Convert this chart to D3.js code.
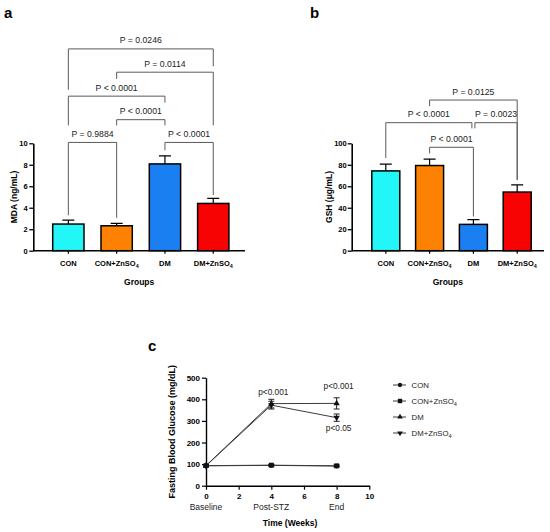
<!DOCTYPE html>
<html>
<head>
<meta charset="utf-8">
<script src="https://cdn.jsdelivr.net/npm/d3@7"></script>
<style>
  body { margin: 0; background: #fff; }
  svg { display: block; font-family: "Liberation Sans", Arial, sans-serif; }
</style>
</head>
<body>
<svg id="drawing_region" width="550" height="532"></svg>
<script>
// groups used by all panels
const groups = ["CON", "CON+ZnSO4", "DM", "DM+ZnSO4"];
const groupColors = ["#22f6f6", "#fd8204", "#1a80f2", "#f70303"];

// panel a : MDA
const mdaMean = [2.48, 2.32, 8.08, 4.40];
const mdaSem  = [0.37, 0.22, 0.74, 0.47];
const mdaTicks = [0, 2, 4, 6, 8, 10];
const mdaTests = [
    { a: 0, b: 1, level: 10.08, endA: 3.30,  endB: 3.06,  p: "P = 0.9884" },
    { a: 2, b: 3, level: 10.08, endA: 9.35,  endB: 5.18,  p: "P < 0.0001" },
    { a: 1, b: 2, level: 12.20, endA: 11.67, endB: 11.67, p: "P < 0.0001" },
    { a: 0, b: 2, level: 14.39, endA: 11.67, endB: 13.78, p: "P < 0.0001" },
    { a: 1, b: 3, level: 16.62, endA: 16.00, endB: 11.67, p: "P = 0.0114" },
    { a: 0, b: 3, level: 18.79, endA: 14.99, endB: 17.18, p: "P = 0.0246" }
];

// panel b : GSH
const gshMean = [74.3, 79.3, 24.5, 54.6];
const gshSem  = [6.4, 6.0, 4.4, 6.6];
const gshTicks = [0, 20, 40, 60, 80, 100];
const gshTests = [
    { a: 1, b: 2, level: 96.3,  endA: 90.5,  endB: 31.9,  p: "P < 0.0001" },
    { a: 0, b: 2, level: 119.2, endA: 86.3,  endB: 113.9, p: "P < 0.0001" },
    { a: 2, b: 3, level: 119.2, endA: 113.9, endB: 66.0,  p: "P = 0.0023" },
    { a: 1, b: 3, level: 140.3, endA: 134.7, endB: 66.0,  p: "P = 0.0125" }
];

// panel c : fasting blood glucose
const weeks = [0, 4, 8];
const weekNames = ["Baseline", "Post-STZ", "End"];
const weekTicks = [0, 2, 4, 6, 8, 10];
const fbgTicks = [0, 100, 200, 300, 400, 500];
const fbgCon   = [92, 94, 91];
const fbgConZn = [93, 95, 92];
const fbgDm    = [93, 380, 381];
const fbgDmZn  = [92, 373, 315];
const fbgConSem   = [4, 4, 4];
const fbgConZnSem = [4, 4, 4];
const fbgDmSem    = [5, 20, 26];
const fbgDmZnSem  = [5, 18, 17];
const fbgNotes = [
    { week: 4, value: 422, text: "p<0.001" },
    { week: 8, value: 448, text: "p<0.001" },
    { week: 8, value: 252, text: "p<0.05" }
];

// writes "…SO4" with the 4 as subscript
function subLabel(sel, str) {
    const m = str.match(/^(.*SO)4$/);
    sel.text(m ? m[1] : str);
    if (m) {
        sel.append('tspan').attr('font-size', '72%').attr('dy', '0.3em').text('4');
    }
}

class BarChart {

    constructor( config, mean, sem, tests ) {
        this.config = config;
        this.mean = mean;
        this.sem = sem;
        this.tests = tests;
        this.init();
    }

    init() {
        let self = this;
        const c = self.config;

        self.g = d3.select('#drawing_region').append('g');

        self.xscale = d3.scaleBand()
            .domain(groups)
            .range([c.barLeft, c.barRight])
            .paddingInner(c.padInner)
            .paddingOuter(c.padInner / 2);

        self.yscale = d3.scaleLinear()
            .domain([0, c.ymax])
            .range([c.bottom, c.top]);

        self.cx = i => self.xscale(groups[i]) + self.xscale.bandwidth() / 2;
    }

    render() {
        let self = this;
        const c = self.config;
        const bw = self.xscale.bandwidth();

        self.g.append('text')
            .attr('x', c.letterX).attr('y', 18)
            .attr('font-size', 15).attr('font-weight', 'bold')
            .text(c.letter);

        self.g.selectAll('rect.bar')
            .data(self.mean)
            .join('rect')
            .attr('class', 'bar')
            .attr('x', (d, i) => self.xscale(groups[i]))
            .attr('y', d => self.yscale(d))
            .attr('width', bw)
            .attr('height', d => self.yscale(0) - self.yscale(d))
            .attr('fill', (d, i) => groupColors[i])
            .attr('stroke', '#000')
            .attr('stroke-width', 1.5);

        // upper error bars
        self.g.selectAll('path.err')
            .data(self.mean)
            .join('path')
            .attr('class', 'err')
            .attr('d', (d, i) => {
                const x = self.cx(i);
                const top = self.yscale(d + self.sem[i]);
                return `M${x},${self.yscale(d)}V${top}M${x - 6},${top}H${x + 6}`;
            })
            .attr('fill', 'none')
            .attr('stroke', '#000')
            .attr('stroke-width', 1.2);

        const yaxis = self.g.append('g')
            .attr('transform', `translate(${c.left},0)`)
            .call(d3.axisLeft(self.yscale).tickValues(c.ticks).tickSize(4).tickSizeOuter(0).tickPadding(c.tickPad));
        yaxis.attr('font-family', null).attr('font-size', 7.5).attr('font-weight', 'bold');
        yaxis.select('.domain').attr('stroke-width', 1.6);
        yaxis.selectAll('.tick line').attr('stroke-width', 1.3);

        const xaxis = self.g.append('g')
            .attr('transform', `translate(0,${c.bottom})`)
            .call(d3.axisBottom(self.xscale).tickSize(3).tickPadding(7));
        xaxis.attr('font-family', null).attr('font-size', 7.5).attr('font-weight', 'bold');
        xaxis.select('.domain').remove();
        xaxis.selectAll('.tick line').attr('stroke-width', 1.2);
        xaxis.selectAll('.tick text').each(function(d) { subLabel(d3.select(this), d); });
        xaxis.append('line')
            .attr('x1', c.left).attr('x2', c.right)
            .attr('stroke', '#000').attr('stroke-width', 1.6);

        // comparison brackets
        self.tests.forEach(t => {
            let xa = self.cx(t.a), xb = self.cx(t.b);
            if (self.tests.some(o => o !== t && o.level === t.level && o.b === t.a)) xa += 1.5;
            if (self.tests.some(o => o !== t && o.level === t.level && o.a === t.b)) xb -= 1.5;
            const yl = self.yscale(t.level);
            self.g.append('path')
                .attr('d', `M${xa},${self.yscale(t.endA)}V${yl}H${xb}V${self.yscale(t.endB)}`)
                .attr('fill', 'none')
                .attr('stroke', '#5a5a5a')
                .attr('stroke-width', 1);
            self.g.append('text')
                .attr('x', (xa + xb) / 2)
                .attr('y', yl - 5.5)
                .attr('text-anchor', 'middle')
                .attr('font-size', 8.7)
                .attr('fill', '#222')
                .text(t.p);
        });

        const midY = (c.top + c.bottom) / 2;
        self.g.append('text')
            .attr('x', c.titleX).attr('y', midY)
            .attr('transform', `rotate(-90,${c.titleX},${midY})`)
            .attr('text-anchor', 'middle')
            .attr('font-size', 8.5).attr('font-weight', 'bold')
            .text(c.title);

        self.g.append('text')
            .attr('x', (c.left + c.right) / 2).attr('y', c.bottom + 34.5)
            .attr('text-anchor', 'middle')
            .attr('font-size', 8.5).attr('font-weight', 'bold')
            .text('Groups');
    }
}

class LineChart {

    constructor( config ) {
        this.config = config;
        this.means = [fbgCon, fbgConZn, fbgDm, fbgDmZn];
        this.sems = [fbgConSem, fbgConZnSem, fbgDmSem, fbgDmZnSem];
        this.symbols = [
            { type: d3.symbolCircle, size: 18, rot: 0 },
            { type: d3.symbolSquare, size: 24, rot: 0 },
            { type: d3.symbolTriangle, size: 17, rot: 0 },
            { type: d3.symbolTriangle, size: 17, rot: 180 }
        ];
        this.init();
    }

    init() {
        let self = this;
        const c = self.config;
        self.g = d3.select('#drawing_region').append('g');
        self.xscale = d3.scaleLinear().domain([0, 10]).range([c.left, c.right]);
        self.yscale = d3.scaleLinear().domain([0, 500]).range([c.bottom, c.top]);
    }

    render() {
        let self = this;
        const c = self.config;

        self.g.append('text')
            .attr('x', 148).attr('y', 351)
            .attr('font-size', 15).attr('font-weight', 'bold')
            .text('c');

        const yaxis = self.g.append('g')
            .attr('transform', `translate(${c.left},0)`)
            .call(d3.axisLeft(self.yscale).tickValues(fbgTicks).tickSize(4).tickSizeOuter(0).tickPadding(2));
        yaxis.attr('font-family', null).attr('font-size', 8).attr('font-weight', 'bold');
        yaxis.select('.domain').attr('stroke-width', 1.4);
        yaxis.selectAll('.tick line').attr('stroke-width', 1.2);

        const xaxis = self.g.append('g')
            .attr('transform', `translate(0,${c.bottom})`)
            .call(d3.axisBottom(self.xscale).tickValues(weekTicks).tickSize(4).tickSizeOuter(0).tickPadding(4));
        xaxis.attr('font-family', null).attr('font-size', 8).attr('font-weight', 'bold');
        xaxis.select('.domain').attr('stroke-width', 1.4);
        xaxis.selectAll('.tick line').attr('stroke-width', 1.2);

        self.g.selectAll('text.week')
            .data(weekNames)
            .join('text')
            .attr('class', 'week')
            .attr('x', (d, i) => self.xscale(weeks[i]))
            .attr('y', c.bottom + 24)
            .attr('text-anchor', 'middle')
            .attr('font-size', 8.5)
            .attr('fill', '#222')
            .text(d => d);

        const line = d3.line()
            .x((d, i) => self.xscale(weeks[i]))
            .y(d => self.yscale(d));

        self.means.forEach((m, s) => {
            self.g.append('path')
                .attr('d', line(m))
                .attr('fill', 'none')
                .attr('stroke', '#3c3c3c')
                .attr('stroke-width', 1);

            self.g.selectAll(null)
                .data(m)
                .join('path')
                .attr('d', (d, i) => {
                    const x = self.xscale(weeks[i]);
                    const lo = self.yscale(d - self.sems[s][i]);
                    const hi = self.yscale(d + self.sems[s][i]);
                    return `M${x},${lo}V${hi}M${x - 3},${hi}H${x + 3}M${x - 3},${lo}H${x + 3}`;
                })
                .attr('fill', 'none')
                .attr('stroke', '#222')
                .attr('stroke-width', 1);

            const sym = self.symbols[s];
            self.g.selectAll(null)
                .data(m)
                .join('path')
                .attr('d', d3.symbol().type(sym.type).size(sym.size))
                .attr('transform', (d, i) => `translate(${self.xscale(weeks[i])},${self.yscale(d)}) rotate(${sym.rot})`)
                .attr('fill', '#111');
        });

        self.g.selectAll('text.note')
            .data(fbgNotes)
            .join('text')
            .attr('class', 'note')
            .attr('x', d => self.xscale(d.week) + 2)
            .attr('y', d => self.yscale(d.value))
            .attr('text-anchor', 'middle')
            .attr('font-size', 8.3)
            .attr('fill', '#222')
            .text(d => d.text);

        const midY = (c.top + c.bottom) / 2;
        self.g.append('text')
            .attr('x', 175).attr('y', midY)
            .attr('transform', `rotate(-90,175,${midY})`)
            .attr('text-anchor', 'middle')
            .attr('font-size', 9).attr('font-weight', 'bold')
            .text('Fasting Blood Glucose (mg/dL)');

        self.g.append('text')
            .attr('x', 290).attr('y', c.bottom + 40.5)
            .attr('text-anchor', 'middle')
            .attr('font-size', 8.5).attr('font-weight', 'bold')
            .text('Time (Weeks)');

        // legend
        const legend = self.g.selectAll('g.legend')
            .data(groups)
            .join('g')
            .attr('class', 'legend')
            .attr('transform', (d, i) => `translate(400,${385 + i * 16})`);
        legend.append('line')
            .attr('x1', -7).attr('x2', 6)
            .attr('stroke', '#3c3c3c').attr('stroke-width', 1);
        legend.append('path')
            .attr('d', (d, i) => d3.symbol().type(self.symbols[i].type).size(self.symbols[i].size * 0.8)())
            .attr('transform', (d, i) => `rotate(${self.symbols[i].rot})`)
            .attr('fill', '#111');
        legend.append('text')
            .attr('x', 11.5).attr('y', 3)
            .attr('font-size', 7.8)
            .attr('fill', '#222')
            .each(function(d) { subLabel(d3.select(this), d); });
    }
}

const chartA = new BarChart({
    letter: 'a', letterX: 4,
    left: 33.3, right: 245, top: 143.3, bottom: 250.7,
    barLeft: 44.2, barRight: 237.4, padInner: 0.352,
    ymax: 10, ticks: mdaTicks, tickPad: 1.6,
    title: 'MDA (ng/mL)', titleX: 16.5
}, mdaMean, mdaSem, mdaTests);
chartA.render();

const chartB = new BarChart({
    letter: 'b', letterX: 310,
    left: 351.7, right: 544, top: 143.3, bottom: 250.7,
    barLeft: 363.9, barRight: 539.1, padInner: 0.361,
    ymax: 100, ticks: gshTicks, tickPad: 1,
    title: 'GSH (\u03bcg/mL)', titleX: 331.5
}, gshMean, gshSem, gshTests);
chartB.render();

const chartC = new LineChart({
    left: 206, right: 369.3, top: 377.7, bottom: 485.7
});
chartC.render();
</script>
</body>
</html>
